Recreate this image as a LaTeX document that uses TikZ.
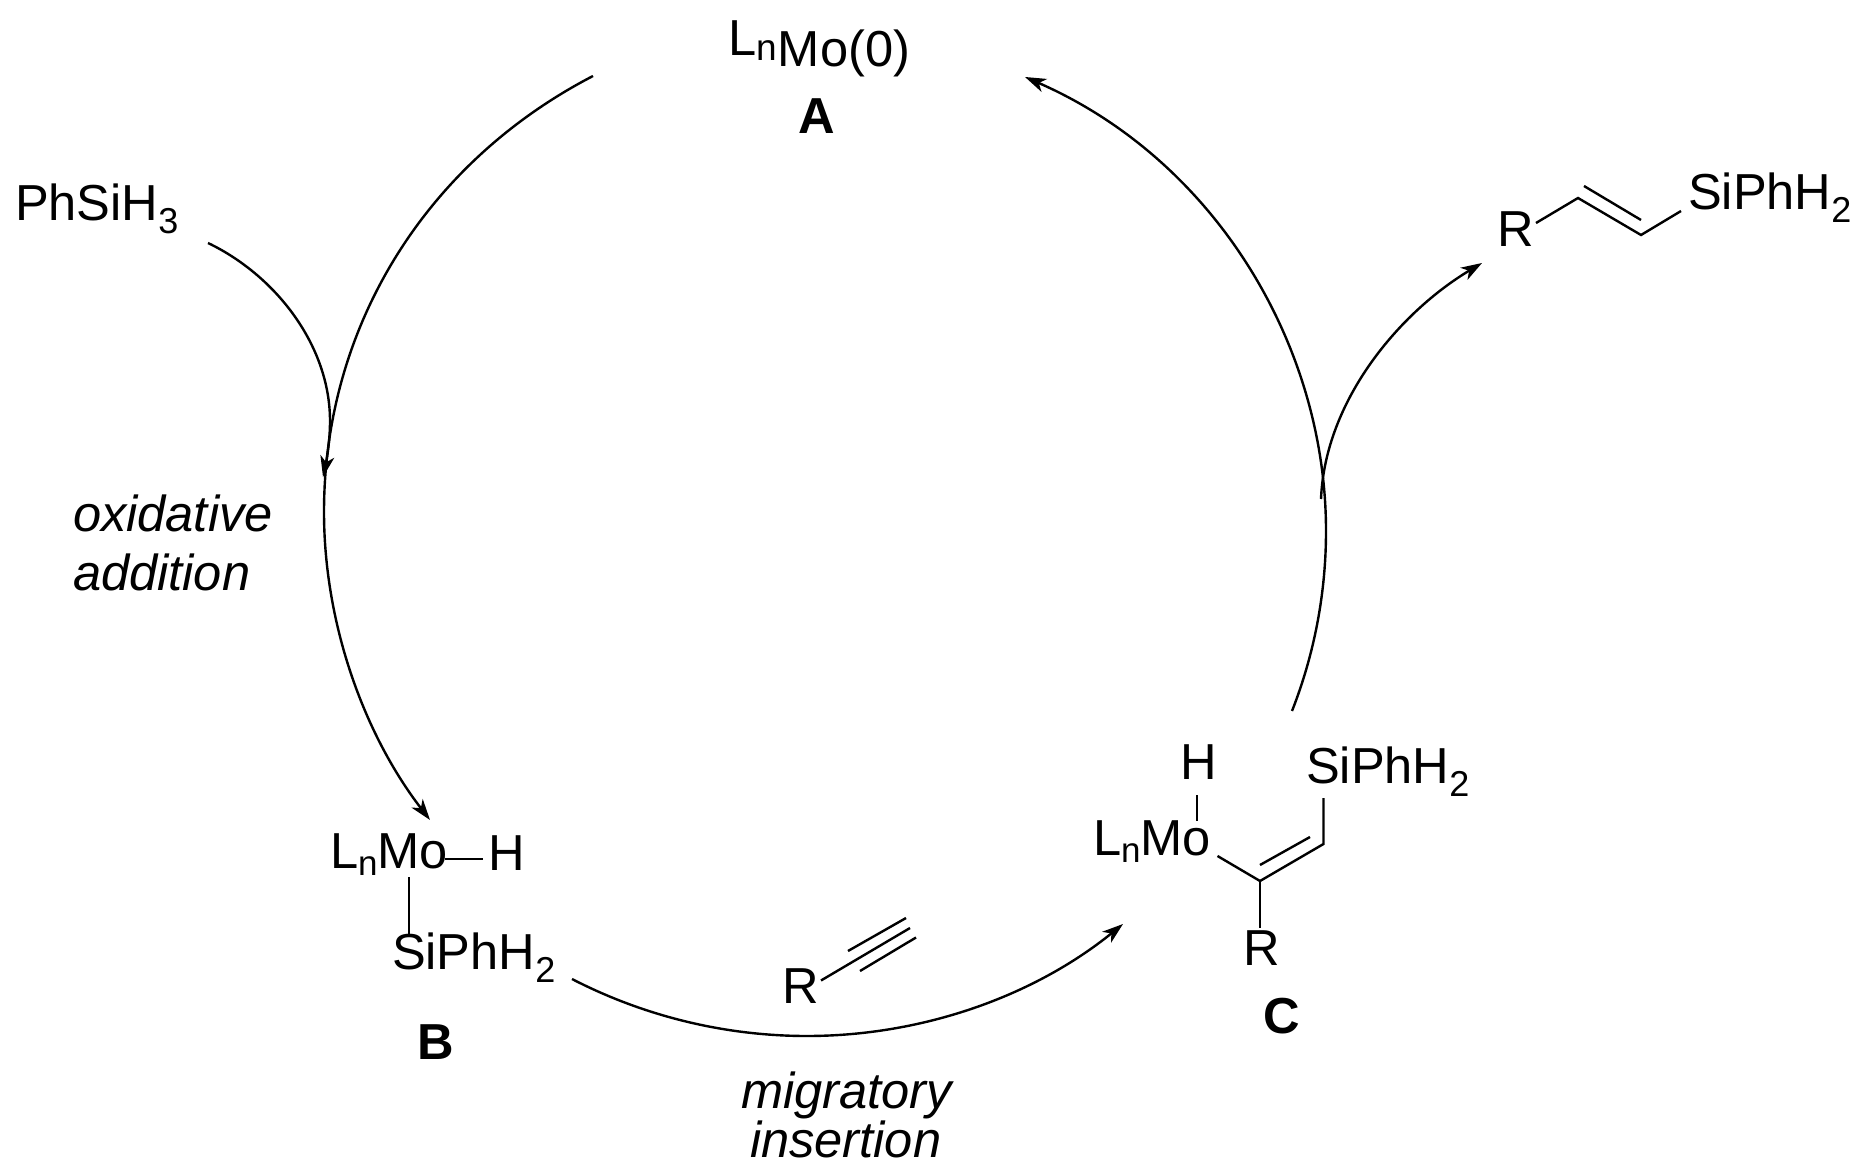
\documentclass[tikz,border=0pt]{standalone}
\usepackage{fontspec}
\setmainfont{Liberation Sans}
\usetikzlibrary{arrows.meta}
\newcommand{\lowtwo}[1]{{\fontsize{18pt}{18pt}\selectfont\raisebox{-6.5pt}{#1}}}
\newcommand{\lown}{{\fontsize{17.5pt}{17.5pt}\selectfont\raisebox{-3.5pt}{n}}}
\newcommand{\topL}{\raisebox{5.5pt}{L}{\fontsize{18.5pt}{18.5pt}\selectfont\raisebox{3pt}{n}}\kern.6pt}
\tikzset{
  txt/.style={inner sep=0pt,outer sep=0pt,anchor=base west,font=\fontsize{25.3pt}{25.3pt}\selectfont},
  lett/.style={inner sep=0pt,outer sep=0pt,anchor=base,font=\fontsize{25.3pt}{25.3pt}\selectfont\bfseries},
  itl/.style={txt,font=\fontsize{25.3pt}{25.3pt}\selectfont\itshape},
  bond/.style={line width=1.2pt,line cap=butt},
  arr/.style={line width=1.2pt,-{Stealth[length=10.5pt,width=7pt,inset=3pt]}}
}
\begin{document}
\begin{tikzpicture}[x=.5pt,y=-.5pt]
\useasboundingbox (0,0) rectangle (1863,1176);
% texts
\node[txt] (mo0) at (728,67) {\topL Mo(0)};
\node[lett] (la) at (817,134) {A};
\node[txt] (phsi) at (15,221) {PhSiH\lowtwo{3}};
\node[itl] (ox) at (73,531) {oxidative};
\node[itl] (add) at (73,590) {addition};
\node[txt] (bmo) at (330,868) {L\lown Mo};
\node[txt] (bh) at (488,870) {H};
\node[txt] (bsi) at (392,969) {SiPhH\lowtwo{2}};
\node[lett] (lb) at (436,1059) {B};
\node[txt] (ralk) at (782,1003) {R};
\node[itl] (mig) at (741,1108) {migratory};
\node[itl] (ins) at (750,1157) {insertion};
\node[txt] (cmo) at (1093,855) {L\lown Mo};
\node[txt] (ch) at (1180,779) {H};
\node[txt] (csi) at (1306,783) {SiPhH\lowtwo{2}};
\node[txt] (cr) at (1243,965) {R};
\node[lett] (lc) at (1282,1033) {C};
\node[txt] (pr) at (1497,246.5) {R};
\node[txt] (psi) at (1688,210) {SiPhH\lowtwo{2}};
% coordinates: cycle
\coordinate (a1) at (593,76);
\coordinate (a2) at (324,512);
\coordinate (a3) at (430,820);
\coordinate (p1) at (208,243);
\coordinate (p2) at (330,421);
\coordinate (p3) at (323,477);
\coordinate (b1) at (572,979);
\coordinate (b2) at (807,1036);
\coordinate (b3) at (1123,924);
\coordinate (c1) at (1292,711);
\coordinate (c2) at (1326,531);
\coordinate (c3) at (1025,77);
\coordinate (d1) at (1321,499);
\coordinate (d2) at (1482,263);
% cycle arrows
\draw[arr] (a1) .. controls (427,162) and (324,325) .. (a2) .. controls (324,622) and (363,733) .. (a3);
\draw[arr] (p1) .. controls (275,275) and (330,345) .. (p2) .. controls (330,440) and (327,458) .. (p3);
\draw[arr] (b1) .. controls (644.5,1016.4) and (725.4,1036) .. (b2) .. controls (922,1036) and (1033.6,996.4) .. (b3);
\draw[arr] (c1) .. controls (1314.5,653.6) and (1326,592.6) .. (c2) .. controls (1326,345) and (1215,160) .. (c3);
\draw[arr] (d1) .. controls (1325,400) and (1400,312) .. (d2);
% bonds B
\coordinate (bb1) at (445,859); \coordinate (bb2) at (483,859);
\coordinate (bb3) at (409,877); \coordinate (bb4) at (409,934);
\draw[bond] (bb1) -- (bb2);
\draw[bond] (bb3) -- (bb4);
% alkyne
\coordinate (y1) at (821,980.5); \coordinate (y2) at (910,928);
\coordinate (y3) at (848,951); \coordinate (y4) at (906,918);
\coordinate (y5) at (860,971); \coordinate (y6) at (916,937.5);
\draw[bond] (y1) -- (y2);
\draw[bond] (y3) -- (y4);
\draw[bond] (y5) -- (y6);
% bonds C
\coordinate (k1) at (1197,795); \coordinate (k2) at (1197,821);
\coordinate (k3) at (1217.5,856); \coordinate (k4) at (1260,881);
\coordinate (k5) at (1323.5,844); \coordinate (k6) at (1323.5,798);
\coordinate (k7) at (1260,865); \coordinate (k8) at (1310,837);
\coordinate (k9) at (1260,928);
\draw[bond] (k1) -- (k2);
\draw[bond,line join=miter] (k3) -- (k4) -- (k5) -- (k6);
\draw[bond] (k7) -- (k8);
\draw[bond] (k4) -- (k9);
% bonds product
\coordinate (q1) at (1536,223); \coordinate (q2) at (1578,198);
\coordinate (q3) at (1641,235); \coordinate (q4) at (1681,211);
\coordinate (q5) at (1584,186); \coordinate (q6) at (1641,220);
\draw[bond,line join=miter] (q1) -- (q2) -- (q3) -- (q4);
\draw[bond] (q5) -- (q6);
\end{tikzpicture}
\end{document}
